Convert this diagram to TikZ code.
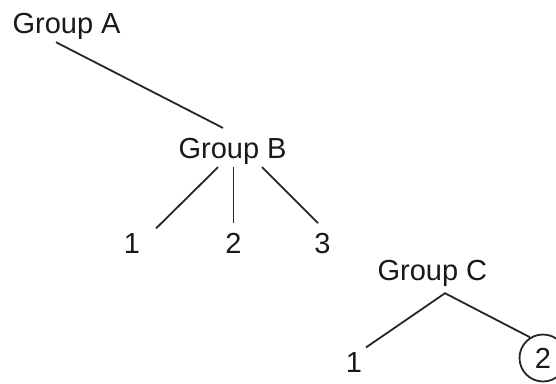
\documentclass[tikz,border=0pt]{standalone}
\usepackage{fontspec}
\setmainfont{Liberation Sans}
\usepackage{tikz}
\usetikzlibrary{shapes,positioning,calc}

\begin{document}
\begin{tikzpicture}[x=1pt, y=-1pt,
		lbl/.style={inner sep=3pt, font=\fontsize{29}{34}\selectfont, text=black!90},
		branch/.style={line width=1.8pt, draw=black!85}]
	\useasboundingbox (0,0) rectangle (556,383);
	% groups
	\node[lbl, anchor=base] (grpa) at (66.6,33) {Group A};
	\node[lbl, anchor=base] (grpb) at (232.6,158) {Group B};
	\node[lbl, anchor=base] (grpc) at (432.4,280) {Group C};
	% leaves of group B
	\node[lbl, anchor=base] (bone) at (132,253) {1};
	\node[lbl, anchor=base] (btwo) at (233.5,253) {2};
	\node[lbl, anchor=base] (bthree) at (322.5,253) {3};
	% leaves of group C
	\node[lbl, anchor=base] (cone) at (354,372) {1};
	\node[lbl, circle, draw=black!85, line width=1.8pt, minimum size=47pt, inner sep=0pt] (ctwo) at (543,358) {2};
	\coordinate (capex) at ([xshift=12.6pt,yshift=-4pt]grpc.south);

	\draw[branch] ([xshift=-10.6pt]grpa.south) -- ([xshift=-9.6pt,yshift=6.6pt]grpb.north);
	\draw[branch] ([xshift=-14.6pt]grpb.south) -- ([xshift=24pt,yshift=1.4pt]bone.north);
	\draw[branch] (btwo.north |- grpb.south) -- ([yshift=6.4pt]btwo.north);
	\draw[branch] ([xshift=29.4pt]grpb.south) -- ([xshift=-4.5pt,yshift=6.4pt]bthree.north);
	\draw[branch] ([xshift=12pt,yshift=1.4pt]cone.north) -- (capex) -- (ctwo.122);
\end{tikzpicture}
\end{document}
